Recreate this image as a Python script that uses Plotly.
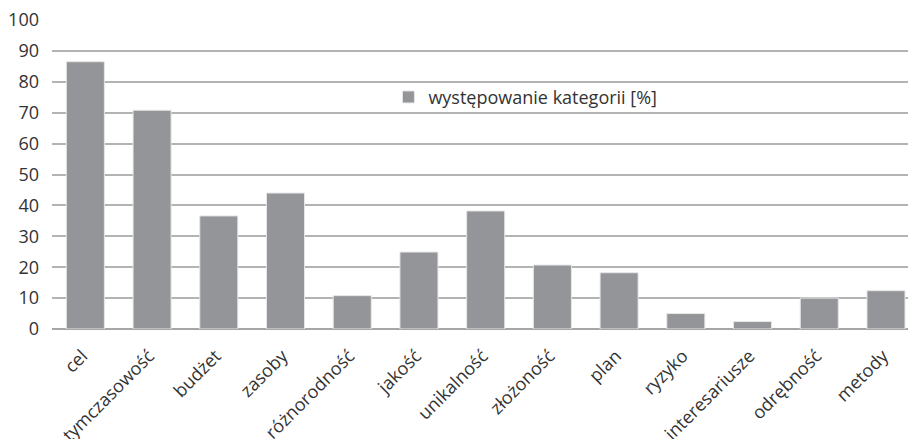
import plotly.graph_objects as go

categories = ["cel", "tymczasowość", "budżet", "zasoby", "różnorodność", "jakość",
              "unikalność", "złożoność", "plan", "ryzyko", "interesariusze",
              "odrębność", "metody"]
values = [86.5, 70.8, 36.6, 44.0, 10.8, 24.9, 38.2, 20.7, 18.2, 5.0, 2.4, 10.0, 12.4]
series_name = "występowanie kategorii [%]"
y_ticks = [0, 10, 20, 30, 40, 50, 60, 70, 80, 90, 100]

FONT = "'Open Sans', 'Noto Sans', sans-serif"

fig = go.Figure()
fig.add_trace(go.Bar(
    x=categories, y=values, name=series_name,
    marker=dict(color="#939598", line=dict(color="#e6e6e6", width=1)),
    showlegend=True,
))

fig.update_layout(
    width=908, height=439,
    margin=dict(l=52, r=0, t=20, b=110),
    paper_bgcolor="white", plot_bgcolor="white",
    bargap=0.43,
    font=dict(family=FONT, color="#333333"),
    showlegend=True,
    legend=dict(x=0.393, y=0.75, xanchor="left", yanchor="middle",
                font=dict(size=18, color="#333333", family=FONT),
                bgcolor="rgba(0,0,0,0)", itemwidth=30),
    xaxis=dict(
        range=[-0.5, 12.33], tickangle=-45,
        tickfont=dict(size=18, color="#333333", family=FONT),
        showgrid=False, showline=False, ticks="", automargin=False,
        ticklabelstandoff=12, ticklabelshift=-3,
    ),
    yaxis=dict(
        range=[0, 100], tickvals=y_ticks,
        tickfont=dict(size=18, color="#333333", family=FONT),
        showgrid=True, gridcolor="#b3b3b3", gridwidth=1.5,
        zeroline=True, zerolinecolor="#a6a6a6", zerolinewidth=1.5,
        showline=False, ticks="", ticklabelstandoff=12, automargin=False,
    ),
)

fig.write_html("out.html", config={"displayModeBar": False},
               post_script="document.body.style.margin='0px';")
